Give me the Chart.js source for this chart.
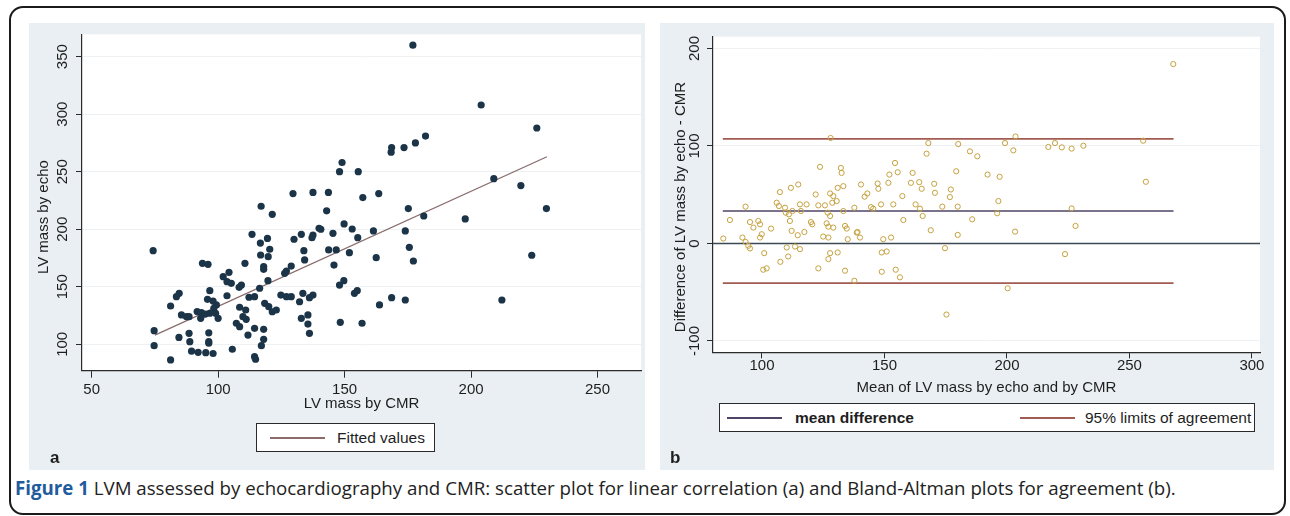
<!DOCTYPE html>
<html>
<head>
<meta charset="utf-8">
<script src="https://cdn.jsdelivr.net/npm/chart.js@4.4.1/dist/chart.umd.min.js"></script>
<style>
  body { margin: 0; width: 1290px; height: 516px; background: #fff; position: relative; overflow: hidden;
         font-family: "Liberation Sans", Arial, sans-serif; color: #1e1e1e; }
  .frame { position: absolute; left: 9px; top: 6px; width: 1277px; height: 509px; box-sizing: border-box;
           border: 2px solid #1b1b1b; border-radius: 14px; }
  .panel { position: absolute; top: 23px; height: 447px; background: #e9eff2; }
  .panel canvas { position: absolute; left: 0; top: 0; }
  .legend { position: absolute; background: #fff; border: 1.5px solid #2a2a2a; box-sizing: border-box; font-size: 15px; }
  .legend .smp { position: absolute; height: 1.5px; }
  .legend .txt { position: absolute; top: 50%; transform: translateY(-50%); white-space: nowrap; }
  .letter { position: absolute; font-weight: bold; font-size: 17px; line-height: 17px; }
  .caption { position: absolute; left: 15px; top: 478.5px; font-family: "Open Sans", "Noto Sans", sans-serif;
             font-size: 18.7px; line-height: 1; white-space: nowrap; color: #222; }
  .caption b { color: #1f5c9e; }
</style>
</head>
<body>
<div class="frame"></div>

<div class="panel" style="left:29px;width:616px;">
  <canvas id="corrChart" width="616" height="447"></canvas>
</div>
<div class="panel" style="left:660px;width:614px;">
  <canvas id="baChart" width="614" height="447"></canvas>
</div>

<div class="legend" style="left:256px;top:423px;width:179px;height:29px;">
  <span class="smp" style="left:13px;width:55px;top:13px;background:#8a6c6c;"></span>
  <span class="txt" style="left:80px;font-size:15.5px;">Fitted values</span>
</div>
<div class="legend" style="left:719px;top:403px;width:536px;height:29px;">
  <span class="smp" style="left:7px;width:55px;top:13px;background:#4f4466;"></span>
  <span class="txt" style="left:75px;font-weight:bold;font-size:15.5px;">mean difference</span>
  <span class="smp" style="left:300px;width:55px;top:13px;background:#a25b52;"></span>
  <span class="txt" style="left:365px;font-size:15.5px;">95% limits of agreement</span>
</div>
<div class="letter" style="left:50px;top:449px;">a</div>
<div class="letter" style="left:670px;top:449px;">b</div>

<div class="caption"><b>Figure 1</b> LVM assessed by echocardiography and CMR: scatter plot for linear correlation (a) and Bland-Altman plots for agreement (b).</div>

<script>
// ---------- panel a: LV mass by CMR (x) vs LV mass by echo (y) ----------
const cmrMass = [
  177, 204, 226, 182, 178, 173.5, 168.6, 168.4, 149, 148, 155.4, 209, 219.7, 129.6, 137.5, 143.6, 163.5, 157.2,
  117, 121.4, 74.3, 113.4, 116.7, 119.5, 120.4, 130, 116.8, 119.8, 93.8, 96, 110.6, 118, 118, 127, 126.3, 128.9,
  104.3, 102, 103.5, 105.2, 119.7, 109.2, 108.3, 116.4, 96.7, 103.5, 112.2, 114.4, 84.6, 83.5, 81.2, 95.8, 98,
  99.3, 98.3, 99, 96.7, 91.7, 93.4, 85.5, 87.5, 88.5, 93.1, 94.9, 100, 108.5, 110.9, 109.8, 111.1, 107.2, 108.5,
  111.8, 114.4, 118, 118, 117.1, 114.4, 114.8, 105.6, 96.3, 96.3, 96.3, 88.5, 88.8, 84.5, 89.5, 92.1, 95.1, 98,
  74.7, 74.7, 81.2, 124.8, 127, 128.9, 118.4, 120, 121.4, 123,
  142.9, 175.2, 181.3, 132.9, 137.5, 137.1, 139.9, 140.6, 145.4, 149.8, 153, 155.2, 161.4, 174, 133.9, 134.2,
  143.7, 146.7, 151.9, 162.5, 175.6, 177.2, 145.8, 148, 149.7, 153.9, 155, 133.5, 132.2, 136.1, 137.5, 163.8,
  168.6, 174, 132.9, 135.5, 135.5, 136.1, 148.3, 156.9,
  197.7, 229.8, 224, 212.2
];
const echoMass = [
  360, 308, 288, 281, 275, 271, 271, 267, 258, 250, 250, 244, 238, 231, 232, 232, 231, 227.5,
  220, 213, 181.4, 195.6, 188, 192, 182.6, 191.3, 177.6, 176.2, 170.4, 169.5, 170.4, 167.5, 165.2, 163.7, 161.7, 168,
  162.6, 158.8, 154.4, 153, 155.3, 151.5, 149.5, 148.7, 146.6, 142.2, 140.9, 141.4, 144.3, 141.4, 133.3, 139.1, 137.6,
  134.2, 131.3, 127, 127, 128.4, 127.5, 125.5, 124, 124, 122.6, 126.3, 122.6, 132.2, 129.8, 124, 121.7, 118.3, 115.3,
  108, 113.9, 113, 104.3, 98.8, 89.2, 87, 95.7, 110, 102.3, 101, 109.5, 102.3, 106, 94, 93, 92.7, 92,
  111.8, 98.8, 86.4, 142.8, 141.4, 141.4, 135.6, 132.7, 128.3, 129.8,
  216, 218, 211.5, 195.6, 195, 192.6, 200.8, 200, 196.5, 204.6, 200.2, 192.7, 198.5, 198.5, 181.4, 173.3,
  182, 182, 179.6, 175.3, 184.3, 172.4, 168.9, 151.5, 155.3, 144.3, 146.6, 144.3, 137, 140.5, 142.8, 134.2,
  140.5, 138.5, 122.6, 125.5, 117.6, 109.5, 119.1, 118.3,
  209, 218, 177.4, 138.5
];
const fitX = [75, 230];
const fitY = [108, 263];
const corrXTicks = [50, 100, 150, 200, 250];
const corrYTicks = [100, 150, 200, 250, 300, 350];

// ---------- panel b: Bland-Altman ----------
const meanMass = [
  123.7, 132.2, 132.5, 114.8, 111.8, 107.3, 121.9, 127.8, 129.1, 130.9, 133.2, 130.5, 128.7, 106, 106.9, 109.4,
  112.4, 115.5, 118.2, 115.9, 93.3, 109.7, 111, 123, 125.7, 126.8, 127.8, 133.2, 137.7, 86.9, 95.1, 96.5, 98.5,
  99.2, 103.7, 111.4, 120, 120.5, 126.4, 127.1, 129.1, 133.9, 134.6, 139, 112.1, 114.6, 117.3, 125, 127.1, 84.2,
  92, 93.3, 94.4, 95.1, 99.2, 99.9, 135, 100.9, 110.1, 113.5, 115.5, 110.7, 107.5, 127.8, 130.9, 127.1, 100.5,
  101.9, 123, 133.9, 137.7,
  167.2, 184.9, 187.9, 154.3, 179.3, 192.1, 155.4, 152, 161.5, 140.4, 147.2, 147.5, 151.6, 160.8, 164.2, 165.2,
  170.3, 170.6, 177.1, 176.7, 141.9, 143, 157.3, 144.5, 145.4, 148.6, 153.6, 162.7, 164.5, 173.6, 179.9, 157.7,
  165.6, 185.8, 168.9, 179.9, 138.7, 140, 149.5, 152.7, 148.9, 150.9, 174.7, 148.9, 154.6, 156.3, 175.3,
  128, 167.9, 180.1,
  267.9, 203.5, 199.2, 202.6, 216.9, 219.6, 222.4, 226.4, 231.2, 255.6, 256.7, 197, 196.5, 196, 226.4, 228,
  203.3, 223.7, 200.3
];
const diffMass = [
  78.6, 77.5, 72.4, 60.5, 57.1, 52.7, 50.3, 51.3, 48.6, 57.1, 58.8, 43.5, 41.8, 41.8, 38.4, 36.7,
  33.3, 40.1, 40.1, 33.3, 37.8, 31.6, 29.9, 39.1, 39.1, 31.6, 28.2, 33.3, 36.7, 24.1, 22, 16.3, 23.1,
  19.7, 15.3, 23.1, 22, 19.7, 20.7, 17.3, 16.3, 18, 15.3, 11.8, 12.9, 8.5, 11.8, 7.1, 6.1, 5.1,
  6.1, 1.6, -2.4, -5.1, 6.1, 9.5, 4.4, -9.9, -4.1, -3.1, -5.8, -13.3, -18.8, -9.9, -9.2, -16, -26.9,
  -25.5, -25.5, -27.9, -38.2,
  92.1, 94.5, 89.4, 82.6, 74.1, 70.7, 73.1, 70.7, 72.4, 60.5, 61.5, 56.1, 62.2, 62.2, 62.9, 56.1,
  61.2, 52, 55.4, 47.6, 48, 51.3, 48.6, 37.3, 35.7, 40.1, 40.1, 40.1, 35.7, 37.8, 37.8, 24.1,
  28.2, 24.8, 13.6, 8.8, 11.2, 6.1, 4.4, 6.1, -9.2, -8.2, -4.8, -29, -26.9, -34.7, -72.9,
  108.2, 103, 102,
  184, 109.8, 103, 95.5, 99, 103, 98.6, 97.3, 100.3, 105.4, 63.3, 68.4, 43.5, 31, 36, 18,
  12.2, -10.9, -45.9
];
const meanDiff = 33.3;
const loaUpper = 107.3;
const loaLower = -40.7;
const lineSpan = [84, 268];
const baXTicks = [100, 150, 200, 250, 300];
const baYTicks = [-100, 0, 100, 200];

// ---------- helpers ----------
const TXT = '#1e1e1e';
const AXIS = '#2b2b2b';
const NB = '\u00a0';   // Stata sets its y titles a little below the middle of the axis

const plotBg = {
  id: 'plotBg',
  beforeDraw(chart) {
    const { ctx, chartArea: a } = chart;
    ctx.save();
    ctx.fillStyle = '#ffffff';
    ctx.fillRect(a.left, a.top, a.right - a.left, a.bottom - a.top);
    ctx.restore();
  }
};

// Stata style: y tick labels standing upright (rotated 90 degrees)
const uprightTicks = {
  id: 'uprightTicks',
  afterDraw(chart, args, opts) {
    const y = chart.scales.y, ctx = chart.ctx;
    ctx.save();
    ctx.font = '15px "Liberation Sans", Arial, sans-serif';
    ctx.fillStyle = TXT;
    ctx.textAlign = 'center';
    ctx.textBaseline = 'middle';
    y.ticks.forEach(t => {
      ctx.save();
      ctx.translate(opts.x, y.getPixelForValue(t.value));
      ctx.rotate(-Math.PI / 2);
      ctx.fillText(String(t.value), 0, 0);
      ctx.restore();
    });
    ctx.restore();
  }
};

function axes(c) {
  return {
    x: {
      type: 'linear', min: c.xMin, max: c.xMax,
      afterBuildTicks: s => { s.ticks = c.xTicks.map(v => ({ value: v })); },
      afterFit: s => { s.height = c.xHeight; },
      grid: { drawOnChartArea: false, drawTicks: true, tickLength: c.tickLen, tickColor: AXIS },
      border: { color: AXIS, width: 1.2 },
      ticks: { color: TXT, padding: c.xPad, maxRotation: 0, font: { size: 15, lineHeight: 1 } },
      title: { display: true, text: c.xTitle, color: TXT, font: { size: 15 }, padding: { top: 0, bottom: 0 } }
    },
    y: {
      type: 'linear', min: c.yMin, max: c.yMax,
      afterBuildTicks: s => { s.ticks = c.yTicks.map(v => ({ value: v })); },
      afterFit: s => { s.width = 53; },
      grid: { color: '#edf1f3', lineWidth: 1, drawTicks: true, tickLength: 6, tickColor: AXIS },
      border: { color: AXIS, width: 1.2 },
      ticks: { display: false },
      title: { display: true, text: c.yTitle, color: TXT, font: { size: 15 }, padding: { top: c.yTitlePad, bottom: 0 } }
    }
  };
}

function pts(xs, ys) { return xs.map((x, i) => ({ x: x, y: ys[i] })); }
function hline(x0, x1, v) { return [{ x: x0, y: v }, { x: x1, y: v }]; }

// ---------- chart a ----------
new Chart(document.getElementById('corrChart'), {
  type: 'scatter',
  data: {
    datasets: [
      { data: pts(cmrMass, echoMass), backgroundColor: '#1c3448', borderWidth: 0, pointRadius: 3.6 },
      { data: pts(fitX, fitY), showLine: true, borderColor: '#8a6c6c', borderWidth: 1.3, pointRadius: 0 }
    ]
  },
  options: {
    responsive: false, animation: false,
    layout: { padding: { left: 0, top: 11.3, right: 3, bottom: 57.3 } },
    plugins: { legend: { display: false }, tooltip: { enabled: false }, uprightTicks: { x: 33.5 } },
    scales: axes({
      xMin: 46.17, xMax: 267.2, yMin: 77.05, yMax: 369.45,
      xTicks: corrXTicks, yTicks: corrYTicks, xHeight: 42, xPad: 5, tickLen: 7,
      xTitle: 'LV mass by CMR', yTitle: 'LV mass by echo' + NB.repeat(7), yTitlePad: 6
    })
  },
  plugins: [plotBg, uprightTicks]
});

// ---------- chart b ----------
const BA_XMIN = 80, BA_XMAX = 303.3;
new Chart(document.getElementById('baChart'), {
  type: 'scatter',
  data: {
    datasets: [
      { data: pts(meanMass, diffMass), backgroundColor: 'rgba(0,0,0,0)', borderColor: '#c6a23f',
        borderWidth: 1, pointRadius: 2.6 },
      { data: hline(BA_XMIN, BA_XMAX, 0), showLine: true, borderColor: '#3b4a54', borderWidth: 1.5, pointRadius: 0 },
      { data: hline(lineSpan[0], lineSpan[1], meanDiff), showLine: true, borderColor: '#4f4466', borderWidth: 1.6, pointRadius: 0 },
      { data: hline(lineSpan[0], lineSpan[1], loaUpper), showLine: true, borderColor: '#a25b52', borderWidth: 1.6, pointRadius: 0 },
      { data: hline(lineSpan[0], lineSpan[1], loaLower), showLine: true, borderColor: '#a25b52', borderWidth: 1.6, pointRadius: 0 }
    ]
  },
  options: {
    responsive: false, animation: false,
    layout: { padding: { left: 0, top: 13.7, right: 14, bottom: 73 } },
    plugins: { legend: { display: false }, tooltip: { enabled: false }, uprightTicks: { x: 34.5 } },
    scales: axes({
      xMin: BA_XMIN, xMax: BA_XMAX, yMin: -111.6, yMax: 212.1,
      xTicks: baXTicks, yTicks: baYTicks, xHeight: 44.7, xPad: 0, tickLen: 6,
      xTitle: 'Mean of LV mass by echo and by CMR',
      yTitle: 'Difference of LV mass by echo - CMR' + NB.repeat(6), yTitlePad: 12
    })
  },
  plugins: [plotBg, uprightTicks]
});
</script>
</body>
</html>
